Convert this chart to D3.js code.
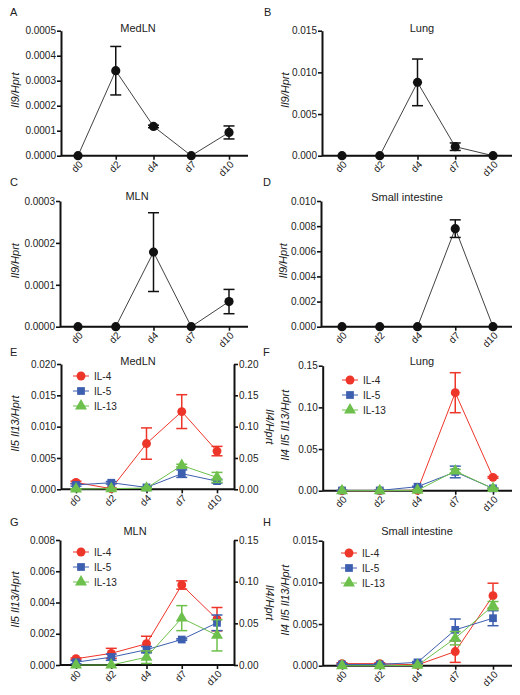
<!DOCTYPE html>
<html><head><meta charset="utf-8">
<script src="https://cdn.jsdelivr.net/npm/d3@7"></script>
<style>
html,body{margin:0;padding:0;background:#fff;}
svg text{font-family:"Liberation Sans",Arial,sans-serif;fill:#222;}
</style></head>
<body><svg id="c" width="520" height="695"></svg>
<script>
// ---------- data ----------
const days = ["d0","d2","d4","d7","d10"];

// Il9/Hprt (panels A-D): mean and SEM
const il9MedLN     = [0, 0.00034, 0.000117, 0, 0.000093];
const il9MedLNSem  = [0, 0.000097, 0.000005, 0, 0.000026];
const il9Lung      = [0, 0, 0.0088, 0.00108, 0];
const il9LungSem   = [0, 0, 0.0028, 0.00045, 0];
const il9MLN       = [0, 0, 0.000178, 0, 0.00006];
const il9MLNSem    = [0, 0, 0.000094, 0, 0.000029];
const il9SI        = [0, 0, 0, 0.0078, 0];
const il9SISem     = [0, 0, 0, 0.0007, 0];

// Panel E (MedLN): IL-4 on right axis, IL-5 / IL-13 on left axis
const eIL4 = [0.011, 0.001, 0.073, 0.124, 0.061];
const eIL4Sem = [0.002, 0.001, 0.025, 0.027, 0.0075];
const eIL5 = [0.0007, 0.00105, 0.0003, 0.0025, 0.0013];
const eIL5Sem = [0.0002, 0.0002, 0.0001, 0.0006, 0.0003];
const eIL13 = [0.00005, 0.0001, 0.0002, 0.0038, 0.0019];
const eIL13Sem = [0.00005, 0.00005, 0.0001, 0.0002, 0.0008];

// Panel F (Lung)
const fIL4 = [0, 0, 0.0005, 0.1176, 0.016];
const fIL4Sem = [0, 0, 0.0003, 0.024, 0.001];
const fIL5 = [0.0003, 0.0003, 0.0048, 0.0225, 0.0028];
const fIL5Sem = [0.0001, 0.0001, 0.0005, 0.007, 0.0005];
const fIL13 = [0, 0, 0.0005, 0.0236, 0.0025];
const fIL13Sem = [0, 0, 0.0002, 0.002, 0.0005];

// Panel G (MLN): IL-4 on right axis
const gIL4 = [0.0075, 0.014, 0.0255, 0.096, 0.055];
const gIL4Sem = [0.001, 0.006, 0.009, 0.005, 0.014];
const gIL5 = [0.00018, 0.0005, 0.00098, 0.00163, 0.0027];
const gIL5Sem = [0.0001, 0.0002, 0.0002, 0.00005, 0.0005];
const gIL13 = [0, 0, 0.0005, 0.003, 0.0019];
const gIL13Sem = [0, 0, 0.0004, 0.0008, 0.001];

// Panel H (Small intestine)
const hIL4 = [0.00025, 0.00025, 0.0001, 0.0017, 0.0084];
const hIL4Sem = [0.0001, 0.0001, 0.00005, 0.0013, 0.0015];
const hIL5 = [0.00015, 0.00015, 0.0004, 0.0043, 0.0057];
const hIL5Sem = [0.0001, 0.0001, 0.0001, 0.0013, 0.0009];
const hIL13 = [0, 0, 0.00004, 0.0033, 0.0072];
const hIL13Sem = [0, 0, 0.00002, 0.0008, 0.0005];

// tick values
const ticksA = [0, 0.0001, 0.0002, 0.0003, 0.0004, 0.0005];
const ticksB = [0, 0.005, 0.010, 0.015];
const ticksC = [0, 0.0001, 0.0002, 0.0003];
const ticksD = [0, 0.002, 0.004, 0.006, 0.008, 0.010];
const ticksE = [0, 0.005, 0.010, 0.015, 0.020];
const ticksERight = [0, 0.05, 0.10, 0.15, 0.20];
const ticksF = [0, 0.05, 0.10, 0.15];
const ticksG = [0, 0.002, 0.004, 0.006, 0.008];
const ticksGRight = [0, 0.05, 0.10, 0.15];
const ticksH = [0, 0.005, 0.010, 0.015];

const seriesNames = ["IL-4", "IL-5", "IL-13"];
const seriesColors = ["#ee3529", "#3d5fb0", "#6ec04c"];

// ---------- drawing ----------
const svg = d3.select("#c");
const BLACK = "#111";

const symbols = [d3.symbolCircle, d3.symbolSquare, d3.symbolTriangle];
const symSizes = [62, 60, 62];

function panel(cfg) {
  const g = svg.append("g");
  const x = d3.scalePoint().domain(days).range(cfg.xr);
  const y = d3.scaleLinear().domain([0, cfg.ticks[cfg.ticks.length-1]]).range([cfg.bottom, cfg.top]);
  let y2 = null;
  if (cfg.rticks) y2 = d3.scaleLinear().domain([0, cfg.rticks[cfg.rticks.length-1]]).range([cfg.bottom, cfg.top]);

  // panel letter
  g.append("text").attr("x", cfg.lx).attr("y", cfg.ly).attr("font-size", 11).text(cfg.letter);
  // title
  g.append("text").attr("x", cfg.tx).attr("y", cfg.ty).attr("text-anchor","middle").attr("font-size", 11).text(cfg.title);

  // left axis
  const ya = g.append("g").attr("transform", `translate(${cfg.ax},0)`)
    .call(d3.axisLeft(y).tickValues(cfg.ticks).tickSize(4).tickSizeOuter(0).tickPadding(1).tickFormat(d3.format(cfg.fmt)));
  styleAxis(ya);
  // right axis
  if (y2) {
    const yr = g.append("g").attr("transform", `translate(${cfg.xEnd},0)`)
      .call(d3.axisRight(y2).tickValues(cfg.rticks).tickSize(4).tickSizeOuter(0).tickPadding(1).tickFormat(d3.format(".2f")));
    styleAxis(yr);
    g.append("text").attr("transform", `translate(${cfg.xEnd+32},${(cfg.top+cfg.bottom)/2}) rotate(90)`)
      .attr("text-anchor","middle").attr("font-size", 11).attr("font-style","italic").text("Il4/Hprt");
  }
  // x axis
  const xa = g.append("g").attr("transform", `translate(0,${cfg.bottom})`)
    .call(d3.axisBottom(x).tickSize(4).tickSizeOuter(0).tickFormat(""));
  xa.select(".domain").remove();
  xa.selectAll(".tick line").attr("stroke", BLACK).attr("stroke-width", 1.6);
  g.append("line").attr("x1", cfg.ax).attr("x2", cfg.xEnd).attr("y1", cfg.bottom).attr("y2", cfg.bottom)
    .attr("stroke", BLACK).attr("stroke-width", 2);
  // rotated x tick labels
  g.selectAll(".xl").data(days).join("text")
    .attr("transform", d => `translate(${x(d)+3},${cfg.bottom+7}) rotate(-45)`)
    .attr("text-anchor","end").attr("dy","0.35em").attr("font-size", 10).text(d => d);

  // y label
  g.append("text").attr("transform", `translate(${cfg.ylx},${(cfg.top+cfg.bottom)/2 - 3}) rotate(-90)`)
    .attr("text-anchor","middle").attr("font-size", 11).attr("font-style","italic").text(cfg.ylabel);

  // series
  cfg.series.forEach((s, i) => {
    const ys = s.right ? y2 : y;
    const col = s.color;
    const pts = days.map((d, k) => ({d, v: s.v[k], e: s.e[k]}));
    g.append("path").datum(pts)
      .attr("d", d3.line().x(p => x(p.d)).y(p => ys(p.v)))
      .attr("fill","none").attr("stroke", col).attr("stroke-width", s.lw || 1);
    const eb = g.append("g");
    pts.filter(p => p.e > 0).forEach(p => {
      const cx = x(p.d), t = ys(p.v + p.e), b = ys(Math.max(0, p.v - p.e));
      eb.append("line").attr("x1",cx).attr("x2",cx).attr("y1",t).attr("y2",b).attr("stroke",col).attr("stroke-width",1.5);
      [t, b].forEach(yy => eb.append("line").attr("x1",cx-5.5).attr("x2",cx+5.5).attr("y1",yy).attr("y2",yy).attr("stroke",col).attr("stroke-width",1.5));
    });
    g.selectAll(null).data(pts).join("path")
      .attr("transform", p => `translate(${x(p.d)},${ys(p.v)})`)
      .attr("d", d3.symbol().type(s.sym).size(s.size))
      .attr("fill", col);
  });

  // legend
  if (cfg.legend) {
    cfg.series.forEach((s, i) => {
      const ly = cfg.legend.y + i * 15;
      g.append("line").attr("x1", cfg.legend.x - 8).attr("x2", cfg.legend.x + 8).attr("y1", ly).attr("y2", ly)
        .attr("stroke", s.color).attr("stroke-width", 1);
      g.append("path").attr("transform", `translate(${cfg.legend.x},${ly})`)
        .attr("d", d3.symbol().type(s.sym).size(s.size)).attr("fill", s.color);
      g.append("text").attr("x", cfg.legend.x + 13).attr("y", ly).attr("dy","0.35em").attr("font-size", 10).text(s.name);
    });
  }
}

function styleAxis(a) {
  a.select(".domain").attr("stroke", BLACK).attr("stroke-width", 2);
  a.selectAll(".tick line").attr("stroke", BLACK).attr("stroke-width", 1.6);
  a.selectAll(".tick text").attr("font-size", 10).attr("fill", "#222")
    .attr("font-family", '"Liberation Sans",Arial,sans-serif');
}

function single(v, e) { return [{v, e, color: BLACK, sym: d3.symbolCircle, size: 66, lw: 0.8}]; }
function triple(a, ae, b, be, c, ce, rightIL4) {
  return [
    {name: seriesNames[0], v: a, e: ae, color: seriesColors[0], sym: symbols[0], size: symSizes[0], right: rightIL4},
    {name: seriesNames[1], v: b, e: be, color: seriesColors[1], sym: symbols[1], size: symSizes[1]},
    {name: seriesNames[2], v: c, e: ce, color: seriesColors[2], sym: symbols[2], size: symSizes[2]}
  ];
}

panel({letter:"A", lx:10, ly:16, title:"MedLN", tx:138, ty:32, ax:61, top:30.7, bottom:155.7, xr:[78,229], xEnd:248,
  ticks:ticksA, fmt:".4f", ylx:19, ylabel:"Il9/Hprt", series: single(il9MedLN, il9MedLNSem)});
panel({letter:"B", lx:264, ly:16, title:"Lung", tx:422, ty:32, ax:322, top:30.7, bottom:155.7, xr:[342,493], xEnd:512,
  ticks:ticksB, fmt:".3f", ylx:289, ylabel:"Il9/Hprt", series: single(il9Lung, il9LungSem)});
panel({letter:"C", lx:10, ly:186, title:"MLN", tx:137, ty:200, ax:60, top:201, bottom:326.7, xr:[78,229], xEnd:248,
  ticks:ticksC, fmt:".4f", ylx:19, ylabel:"Il9/Hprt", series: single(il9MLN, il9MLNSem)});
panel({letter:"D", lx:263, ly:186, title:"Small intestine", tx:407, ty:201, ax:321, top:201, bottom:326.7, xr:[342,493], xEnd:512,
  ticks:ticksD, fmt:".3f", ylx:287, ylabel:"Il9/Hprt", series: single(il9SI, il9SISem)});
panel({letter:"E", lx:10, ly:356, title:"MedLN", tx:138, ty:365, ax:61, top:364, bottom:489.3, xr:[76,217], xEnd:234,
  ticks:ticksE, fmt:".3f", rticks:ticksERight, ylx:19, ylabel:"Il5 Il13/Hprt",
  series: triple(eIL4, eIL4Sem, eIL5, eIL5Sem, eIL13, eIL13Sem, true), legend:{x:81, y:376}});
panel({letter:"F", lx:263, ly:356, title:"Lung", tx:422, ty:365, ax:322.7, top:365.7, bottom:490.7, xr:[342,493], xEnd:512,
  ticks:ticksF, fmt:".2f", ylx:289, ylabel:"Il4 Il5 Il13/Hprt",
  series: triple(fIL4, fIL4Sem, fIL5, fIL5Sem, fIL13, fIL13Sem, false), legend:{x:350, y:380}});
panel({letter:"G", lx:10, ly:526, title:"MLN", tx:135, ty:535, ax:60, top:540, bottom:665, xr:[76,217], xEnd:234,
  ticks:ticksG, fmt:".3f", rticks:ticksGRight, ylx:19, ylabel:"Il5 Il13/Hprt",
  series: triple(gIL4, gIL4Sem, gIL5, gIL5Sem, gIL13, gIL13Sem, true), legend:{x:81, y:552}});
panel({letter:"H", lx:263, ly:526, title:"Small intestine", tx:417, ty:535, ax:322.7, top:540.7, bottom:665.7, xr:[342,493], xEnd:512,
  ticks:ticksH, fmt:".3f", ylx:289, ylabel:"Il4 Il5 Il13/Hprt",
  series: triple(hIL4, hIL4Sem, hIL5, hIL5Sem, hIL13, hIL13Sem, false), legend:{x:349, y:553}});
</script></body></html>
